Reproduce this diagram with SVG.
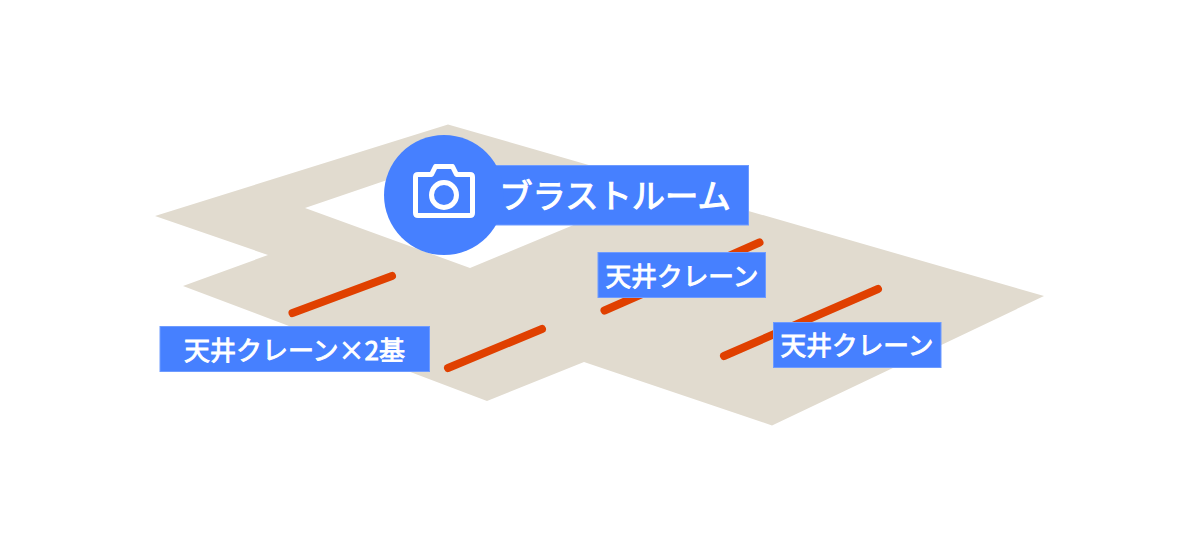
<svg xmlns="http://www.w3.org/2000/svg" width="1200" height="550" viewBox="0 0 1200 550">
<style>
.crane{fill:none;stroke:#e04000;stroke-width:8;stroke-linecap:round}
.box{fill:#4680ff;stroke:#6e9bff;stroke-width:1}
.t{fill:#fff;stroke:#fff;stroke-width:.9;font-family:"Noto Sans CJK JP","Noto Sans",sans-serif;font-weight:400;font-size:25.700px;text-anchor:middle}
</style>
<rect width="1200" height="550" fill="#fff"/>
<path id="floor" fill="#e1dbcf" fill-rule="evenodd" d="M448 124.500L1044 296L772 425.500L584 362L487 401L183 286L268 255L155 216ZM305 208L470 268L600 214L440 162Z"/>
<g id="connectors">
<line class="crane" x1="292.500" y1="313" x2="392" y2="276"/>
<line class="crane" x1="448" y1="368" x2="542" y2="329"/>
<line class="crane" x1="604.500" y1="310.500" x2="759.500" y2="242.500"/>
<line class="crane" x1="724" y1="356" x2="878" y2="289"/>
</g>
<g id="node-blast">
<rect class="box" x="444" y="165.500" width="304.500" height="59.500"/>
<circle cx="444" cy="195" r="60" fill="#4680ff"/>
<path fill="none" stroke="#fff" stroke-width="5" stroke-linejoin="round" d="M418 174.500H431.500L435.500 166.500H452.500L456.500 174.500H470Q472.500 174.500 472.500 177V213Q472.500 215.500 470 215.500H418Q415.500 215.500 415.500 213V177Q415.500 174.500 418 174.500Z"/>
<circle cx="444" cy="195" r="12.500" fill="none" stroke="#fff" stroke-width="5"/>
<text class="t" x="615" y="208" style="font-size:33.300px;stroke-width:1.100">ブラストルーム</text>
</g>
<g id="node-crane-2">
<rect class="box" x="160" y="326.500" width="269.500" height="45"/>
<text class="t" x="294.500" y="360" style="font-size:26px">天井クレーン×2基</text>
</g>
<g id="node-crane-center">
<rect class="box" x="598" y="252.500" width="167.500" height="45"/>
<text class="t" x="682" y="286">天井クレーン</text>
</g>
<g id="node-crane-right">
<rect class="box" x="773.500" y="322.500" width="167.500" height="45"/>
<text class="t" x="857" y="355">天井クレーン</text>
</g>
</svg>
